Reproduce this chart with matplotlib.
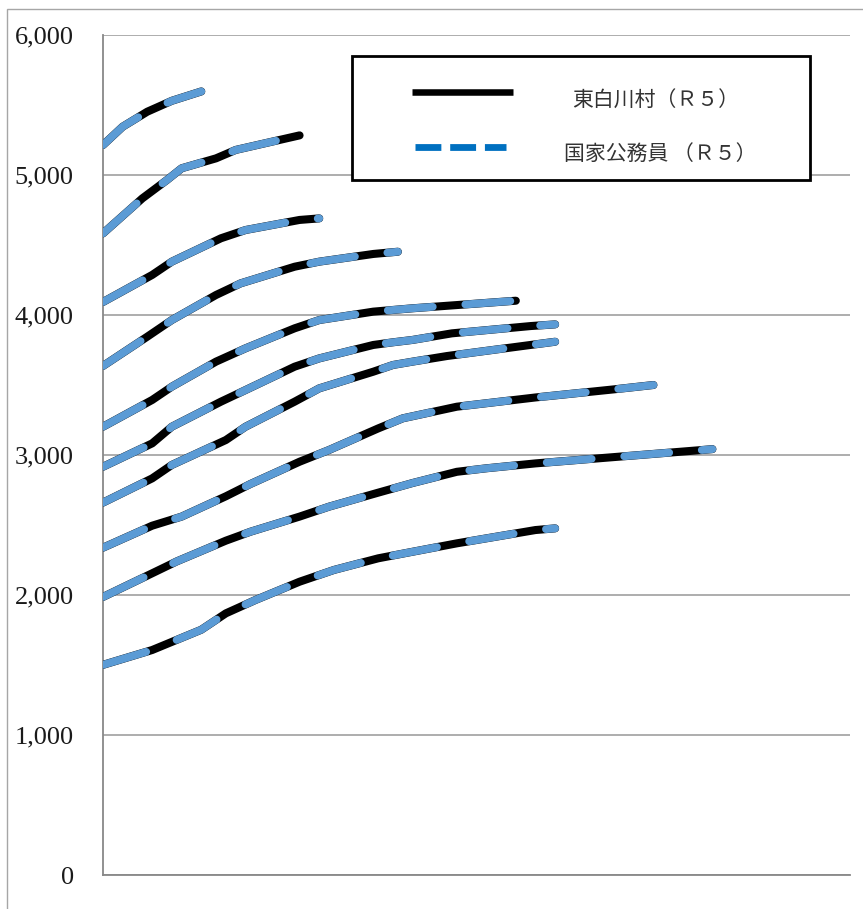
import matplotlib.pyplot as plt
from matplotlib.lines import Line2D
from matplotlib.patches import Rectangle
from matplotlib.ticker import FuncFormatter

# 号俸 (step index) and monthly pay (x100 yen) per grade
g1_x = [0, 10, 20, 25, 31, 40, 47, 56, 63, 72, 88, 92]
g1_y = [1501, 1607, 1752, 1869, 1964, 2095, 2179, 2262, 2309, 2369, 2464, 2476]
g2_x = [0, 10, 15, 25, 30, 40, 46, 56, 63, 72, 78, 88, 105, 122, 124]
g2_y = [1986, 2155, 2240, 2388, 2452, 2560, 2631, 2731, 2800, 2880, 2905, 2940, 2988, 3036, 3042]
g3_x = [0, 10, 16, 25, 30, 40, 46, 56, 61, 72, 88, 104, 112]
g3_y = [2338, 2495, 2560, 2705, 2793, 2952, 3036, 3190, 3262, 3345, 3411, 3469, 3500]
g4_x = [0, 10, 14, 25, 29, 39, 44, 55, 59, 63, 70, 87, 92]
g4_y = [2660, 2833, 2929, 3107, 3202, 3381, 3476, 3595, 3643, 3667, 3707, 3786, 3809]
g5_x = [0, 10, 14, 24, 29, 39, 44, 55, 59, 63, 71, 87, 92]
g5_y = [2916, 3083, 3202, 3381, 3464, 3631, 3690, 3786, 3805, 3822, 3869, 3921, 3933]
g6_x = [0, 10, 14, 23, 29, 39, 44, 55, 59, 63, 72, 84]
g6_y = [3202, 3393, 3488, 3667, 3762, 3905, 3964, 4024, 4036, 4048, 4071, 4102]
g7_x = [0, 9, 14, 23, 28, 39, 44, 55, 60]
g7_y = [3636, 3845, 3964, 4143, 4226, 4345, 4381, 4436, 4452]
g8_x = [0, 10, 14, 24, 29, 40, 44]
g8_y = [4093, 4286, 4381, 4548, 4607, 4679, 4690]
g9_x = [0, 8, 13, 16, 23, 27, 40]
g9_y = [4583, 4833, 4964, 5048, 5119, 5179, 5283]
g10_x = [0, 4, 9, 14, 20]
g10_y = [5214, 5345, 5452, 5530, 5597]

village_label = "東白川村（Ｒ５）"
national_label = "国家公務員 （Ｒ５）"
yticks = [0, 1000, 2000, 3000, 4000, 5000, 6000]

W, H = 863, 909
fig = plt.figure(figsize=(W / 100, H / 100), dpi=100)
ax = fig.add_axes([103 / W, 1 - 875 / H, (850 - 103) / W, (875 - 35) / H])


def fx(px):
    return px / W


def fy(py):
    return 1 - py / H


# outer chart border
fig.patches.append(Rectangle((fx(7), -0.1), 1.2, fy(9) + 0.1, transform=fig.transFigure,
                             fill=False, edgecolor="#a6a6a6", lw=1.0))

grades = [(g1_x, g1_y), (g2_x, g2_y), (g3_x, g3_y), (g4_x, g4_y), (g5_x, g5_y),
          (g6_x, g6_y), (g7_x, g7_y), (g8_x, g8_y), (g9_x, g9_y), (g10_x, g10_y)]
for gx, gy in grades:
    ax.plot(gx, gy, color="black", lw=5.8, solid_capstyle="round",
            solid_joinstyle="round", zorder=3)
    # the national scale is identical, drawn dashed on top
    ax.plot(gx, gy, color="#5b9bd5", lw=5.6, ls=(0, (5.8, 4.2)),
            dash_capstyle="round", dash_joinstyle="round", zorder=4)

ax.set_xlim(0, 152)
ax.set_ylim(0, 6000)
ax.set_yticks(yticks)
ax.yaxis.set_major_formatter(FuncFormatter(lambda v, p: f"{int(v):,}"))
ax.set_xticks([])
ax.grid(axis="y", color="#a0a0a0", lw=1.2)
ax.set_axisbelow(True)
for s in ["top", "right"]:
    ax.spines[s].set_visible(False)
for s in ["left", "bottom"]:
    ax.spines[s].set_color("#888888")
    ax.spines[s].set_linewidth(1.3)
ax.tick_params(axis="y", length=0, pad=21, labelsize=19, labelcolor="#1a1a1a")
for t in ax.get_yticklabels():
    t.set_family("Liberation Serif")

# legend box
fig.patches.append(Rectangle((fx(352), fy(180)), (810 - 352) / W, (180 - 56) / H,
                             transform=fig.transFigure, fill="white", facecolor="white",
                             edgecolor="black", lw=2.0, zorder=10))
fig.add_artist(Line2D([fx(412), fx(513)], [fy(92), fy(92)], transform=fig.transFigure,
                      color="black", lw=4.7, solid_capstyle="butt", zorder=11))
fig.add_artist(Line2D([fx(415), fx(506)], [fy(147), fy(147)], transform=fig.transFigure,
                      color="#0070c0", lw=4.9, ls=(0, (3.8, 1.3)),
                      dash_capstyle="butt", zorder=11))
leg_font = {"family": ["Noto Sans CJK JP", "DejaVu Sans"], "size": 15}
fig.text(fx(656), fy(101), village_label, ha="center", va="center",
         color="#333333", zorder=12, **leg_font)
fig.text(fx(660), fy(154), national_label, ha="center", va="center",
         color="#333333", zorder=12, **leg_font)

fig.savefig("out.png", dpi=100)
